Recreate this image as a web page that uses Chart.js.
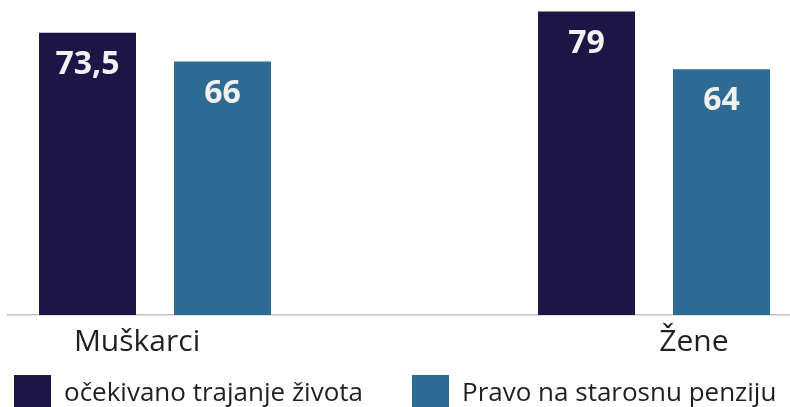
<!DOCTYPE html>
<html>
<head>
<meta charset="utf-8">
<script src="https://cdn.jsdelivr.net/npm/chart.js@4/dist/chart.umd.min.js"></script>
<style>
  html, body { margin: 0; padding: 0; background: #fff; overflow: hidden; width: 790px; height: 407px; }
  #chart { position: absolute; left: -35px; top: 0; }
</style>
</head>
<body>
<canvas id="chart" width="900" height="422"></canvas>
<script>
const categories = ['Muškarci', 'Žene'];
const lifeExpectancy = [73.5, 79];
const pensionAge = [66, 64];
const seriesNames = ['očekivano trajanje života', 'Pravo na starosnu penziju'];

// where the category names sit on the x axis (they are not centred under the bars)
const labelPos = [-0.036, 1.08];

const toPoints = (values) => values.map((v, i) => ({ x: i, y: v }));

const valueLabels = {
  id: 'valueLabels',
  afterDatasetsDraw(chart) {
    const ctx = chart.ctx;
    ctx.save();
    ctx.font = 'bold 32px "Open Sans"';
    ctx.fillStyle = '#f2f0f0';
    ctx.textAlign = 'center';
    ctx.textBaseline = 'middle';
    chart.data.datasets.forEach((ds, i) => {
      chart.getDatasetMeta(i).data.forEach((bar, j) => {
        ctx.fillText(String(ds.data[j].y).replace('.', ','), bar.x, bar.y + 32);
      });
    });
    ctx.restore();
  }
};

// the x axis is squeezed so the legend fits; let its labels draw below it anyway
const unclipXLabels = {
  id: 'unclipXLabels',
  afterLayout(chart) {
    chart.scales.x.bottom = chart.height;
  }
};

const ctx = document.getElementById('chart').getContext('2d');

new Chart(ctx, {
  type: 'bar',
  data: {
    datasets: [
      {
        label: seriesNames[0],
        data: toPoints(lifeExpectancy),
        backgroundColor: '#1e1547',
        categoryPercentage: 0.541,
        barPercentage: 0.7185,
      },
      {
        label: seriesNames[1],
        data: toPoints(pensionAge),
        backgroundColor: '#2d6b95',
        categoryPercentage: 0.541,
        barPercentage: 0.7185,
      },
    ],
  },
  options: {
    responsive: false,
    animation: false,
    layout: { padding: 0 },
    scales: {
      x: {
        type: 'linear',
        offset: false,
        min: -0.2946,
        max: 1.4228,
        grid: { display: false, drawTicks: false, offset: false },
        border: { display: true, color: '#c4c4c4', width: 1.5 },
        afterBuildTicks: (scale) => {
          scale.ticks = labelPos.map((v) => ({ value: v }));
        },
        afterFit: (scale) => {
          scale.height = 11;
        },
        ticks: {
          padding: 9,
          maxRotation: 0,
          autoSkip: false,
          color: '#231f20',
          font: { family: 'Open Sans', size: 30 },
          callback: (value, index) => categories[index],
        },
      },
      y: {
        min: 0,
        max: 82,
        grid: { display: false, drawTicks: false },
        border: { display: false },
        ticks: { display: false },
        afterFit: (scale) => {
          scale.width = 43;
        },
      },
    },
    plugins: {
      legend: {
        position: 'bottom',
        align: 'start',
        labels: {
          boxWidth: 37,
          boxHeight: 37,
          padding: 49,
          color: '#231f20',
          font: { family: 'Open Sans', size: 26 },
        },
      },
      tooltip: { enabled: false },
    },
  },
  plugins: [valueLabels, unclipXLabels],
});
</script>
</body>
</html>
